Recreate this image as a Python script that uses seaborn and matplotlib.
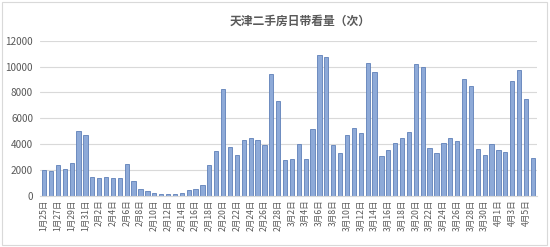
import matplotlib
matplotlib.use("Agg")
import matplotlib.pyplot as plt
import seaborn as sns
import pandas as pd
from matplotlib.patches import Rectangle

title = "天津二手房日带看量（次）"

months = [1]*7 + [2]*28 + [3]*31 + [4]*6
days = list(range(25, 32)) + list(range(1, 29)) + list(range(1, 32)) + list(range(1, 7))
dates = [f"{m}月{d}日" for m, d in zip(months, days)]

values = [2000, 1900, 2400, 2050, 2500, 5000, 4700, 1450, 1350, 1470, 1320, 1340,
          2430, 1160, 540, 330, 180, 100, 100, 100, 180, 390, 490,
          800, 2370, 3430, 8260, 3740, 3170, 4330, 4490, 4330, 3950, 9440, 7300,
          2790, 2810, 4020, 2810, 5160, 10860, 10730, 3920, 3280, 4670, 5210, 4820,
          10270, 9550, 3070, 3560, 4080, 4490, 4930, 10170, 9930, 3660, 3330, 4080,
          4440, 4260, 9030, 8460, 3590, 3170, 3970, 3510, 3400, 8880, 9700, 7480,
          2940]

y_ticks = [0, 2000, 4000, 6000, 8000, 10000, 12000]

df = pd.DataFrame({"date": dates, "count": values})

sns.set_theme(style="white")
plt.rcParams['font.family'] = ['Noto Sans CJK SC', 'DejaVu Sans']

fig = plt.figure(figsize=(5.5, 2.47), dpi=100)
ax = fig.add_axes([40/550, 1 - 195.5/247, 497/550, (195.5 - 40.7)/247])

sns.barplot(data=df, x="date", y="count", order=dates, color="#8eaad8",
            edgecolor="#5f80b8", linewidth=0.6, width=0.62, saturation=1, ax=ax)

ax.set_ylim(0, 12000)
ax.set_xlim(-0.6, len(dates) - 0.4)
ax.set_yticks(y_ticks)
ax.set_yticklabels([str(v) for v in y_ticks], fontsize=7.2, color="#595959")
ax.set_xticks(range(0, len(dates), 2))
ax.set_xticklabels(dates[::2], rotation=90, fontsize=6.2, color="#595959")
ax.tick_params(axis='x', length=0, pad=3)
ax.tick_params(axis='y', length=0, pad=5)
ax.set_xlabel("")
ax.set_ylabel("")
ax.grid(axis='y', color="#d9d9d9", linewidth=0.8)
ax.set_axisbelow(True)
for s in ["top", "right", "left"]:
    ax.spines[s].set_visible(False)
ax.spines["bottom"].set_color("#d9d9d9")
ax.spines["bottom"].set_linewidth(0.8)

fig.text(300/550, 1 - 21/247, title, ha="center", va="center", fontsize=8.5,
         color="#595959", fontweight="bold")

fig.patches.append(Rectangle((2/550, 2/247), 545/550, 243/247, transform=fig.transFigure,
                             fill=False, edgecolor="#d9d9d9", linewidth=0.8))

fig.savefig("out.png", dpi=100, facecolor="white")
